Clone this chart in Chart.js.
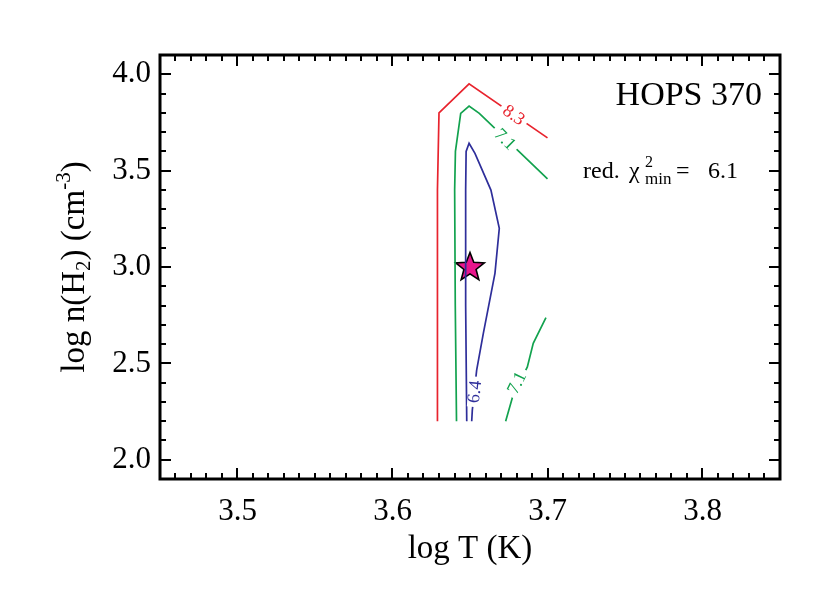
<!DOCTYPE html>
<html>
<head>
<meta charset="utf-8">
<script src="https://cdn.jsdelivr.net/npm/chart.js@4.4.1/dist/chart.umd.min.js"></script>
<style>
  html, body { margin: 0; padding: 0; background: #fff; }
  #c { display: block; }
</style>
</head>
<body>
<canvas id="c" width="830" height="593"></canvas>
<script>
// axis ranges and labelled ticks
const xRange = [3.45, 3.85];
const yRange = [1.9, 4.1];
const xTicks = [3.5, 3.6, 3.7, 3.8];
const yTicks = [2.0, 2.5, 3.0, 3.5, 4.0];

// contour paths: [log T, log n]
const contour83 = [[3.629, 2.2], [3.629, 2.8], [3.629, 3.4], [3.630, 3.8], [3.6494, 3.95], [3.700, 3.67]];
const contour71a = [[3.6413, 2.2], [3.6405, 2.8], [3.6401, 3.4], [3.6406, 3.6], [3.644, 3.797], [3.6494, 3.835], [3.656, 3.797], [3.700, 3.457]];
const contour71b = [[3.673, 2.2], [3.6775, 2.327], [3.687, 2.482], [3.6908, 2.604], [3.699, 2.737]];
const contour64 = [[3.6479, 2.2], [3.6472, 2.8], [3.6472, 3.4], [3.6475, 3.6], [3.6494, 3.642], [3.6532, 3.59],
  [3.6635, 3.399], [3.6689, 3.201], [3.6661, 2.967], [3.6586, 2.656], [3.6543, 2.465], [3.6515, 2.258], [3.6511, 2.2]];
const bestFit = [[3.65, 3.0]];

const RED = '#e8232d', GREEN = '#12a24e', BLUE = '#2e2e9a';
const SERIF = "'Liberation Serif', 'Times New Roman', serif";

// contour level labels: text, position (data), angle in degrees
const contourLabels = [
  { text: '8.3', x: 3.6784, y: 3.79, angle: 35, color: RED },
  { text: '7.1', x: 3.6728, y: 3.664, angle: 45, color: GREEN },
  { text: '7.1', x: 3.680, y: 2.40, angle: -64, color: GREEN },
  { text: '6.4', x: 3.6528, y: 2.353, angle: -84, color: BLUE },
];

function pts(arr) { return arr.map(([x, y]) => ({ x, y })); }

function starImage() {
  const c = document.createElement('canvas');
  c.width = 36; c.height = 36;
  const g = c.getContext('2d');
  const R = 15, r = 6.4, cx = 18, cy = 18.5;
  g.beginPath();
  for (let i = 0; i < 10; i++) {
    const a = -Math.PI / 2 + i * Math.PI / 5;
    const rad = i % 2 === 0 ? R : r;
    g.lineTo(cx + rad * Math.cos(a), cy + rad * Math.sin(a));
  }
  g.closePath();
  g.fillStyle = '#e8168c';
  g.fill();
  g.lineWidth = 1.6;
  g.strokeStyle = '#000';
  g.stroke();
  return c;
}

function lineSet(data, color) {
  return {
    data: pts(data), showLine: true, borderColor: color, borderWidth: 1.7,
    pointRadius: 0, fill: false, tension: 0,
  };
}

// frame, inward ticks, titles and annotations
const framePlugin = {
  id: 'frame',
  afterDatasetsDraw(chart) {
    const { ctx, scales: { x, y } } = chart;
    ctx.save();
    ctx.font = `18px ${SERIF}`;
    ctx.textAlign = 'center';
    ctx.textBaseline = 'middle';
    for (const l of contourLabels) {
      const px = x.getPixelForValue(l.x), py = y.getPixelForValue(l.y);
      const w = ctx.measureText(l.text).width;
      ctx.save();
      ctx.translate(px, py);
      ctx.rotate(l.angle * Math.PI / 180);
      ctx.fillStyle = '#fff';
      ctx.fillRect(-w / 2 - 4, -6, w + 8, 12);
      ctx.fillStyle = l.color;
      ctx.fillText(l.text, 0, 1);
      ctx.restore();
    }
    ctx.restore();
  },
  afterDraw(chart) {
    const { ctx, chartArea: a, scales: { x, y } } = chart;
    ctx.save();
    ctx.strokeStyle = '#000';
    ctx.lineWidth = 2;
    ctx.beginPath();
    for (let i = Math.round(xRange[0] * 100); i <= Math.round(xRange[1] * 100); i++) {
      const px = Math.round(x.getPixelForValue(i / 100));
      const len = i % 10 === 0 ? 11 : 6;
      ctx.moveTo(px, a.bottom); ctx.lineTo(px, a.bottom - len);
      ctx.moveTo(px, a.top); ctx.lineTo(px, a.top + len);
    }
    for (let i = Math.round(yRange[0] * 10); i <= Math.round(yRange[1] * 10); i++) {
      const py = Math.round(y.getPixelForValue(i / 10));
      const len = i % 5 === 0 ? 11 : 6;
      ctx.moveTo(a.left, py); ctx.lineTo(a.left + len, py);
      ctx.moveTo(a.right, py); ctx.lineTo(a.right - len, py);
    }
    ctx.stroke();
    ctx.lineWidth = 3;
    ctx.strokeRect(a.left, a.top, a.right - a.left, a.bottom - a.top);

    ctx.fillStyle = '#000';
    ctx.textBaseline = 'alphabetic';

    // x title
    ctx.font = `33px ${SERIF}`;
    ctx.textAlign = 'center';
    ctx.fillText('log T (K)', (a.left + a.right) / 2, 558);

    // y title with sub/superscripts, rotated
    ctx.save();
    ctx.translate(84, (a.top + a.bottom) / 2);
    ctx.rotate(-Math.PI / 2);
    const parts = [
      ['log n(H', 33, 0], ['2', 21, 6], [') (cm', 33, 0], ['-3', 21, -14], [')', 33, 0],
    ];
    let total = 0;
    for (const [t, s] of parts) { ctx.font = `${s}px ${SERIF}`; total += ctx.measureText(t).width; }
    let cx = -total / 2;
    ctx.textAlign = 'left';
    for (const [t, s, dy] of parts) {
      ctx.font = `${s}px ${SERIF}`;
      ctx.fillText(t, cx, dy);
      cx += ctx.measureText(t).width;
    }
    ctx.restore();

    // annotations
    ctx.font = `34px ${SERIF}`;
    ctx.textAlign = 'right';
    ctx.fillText('HOPS 370', 762, 105);

    ctx.textAlign = 'left';
    ctx.font = `24px ${SERIF}`;
    ctx.fillText('red.', 583, 178);
    ctx.fillText('\u03c7', 629, 178);
    ctx.font = `16px ${SERIF}`;
    ctx.fillText('2', 645, 167);
    ctx.font = `17px ${SERIF}`;
    ctx.fillText('min', 645, 184);
    ctx.font = `24px ${SERIF}`;
    ctx.fillText('=', 676, 178);
    ctx.fillText('6.1', 708, 178);
    ctx.restore();
  },
};

const tickFont = { family: SERIF, size: 31 };

new Chart(document.getElementById('c'), {
  type: 'scatter',
  data: {
    datasets: [
      lineSet(contour83, RED),
      lineSet(contour71a, GREEN),
      lineSet(contour71b, GREEN),
      lineSet(contour64, BLUE),
      { data: pts(bestFit), pointStyle: starImage(), pointRadius: 15, showLine: false },
    ],
  },
  options: {
    responsive: false,
    animation: false,
    layout: { padding: { top: 55, right: 50, left: 0, bottom: 0 } },
    plugins: { legend: { display: false }, tooltip: { enabled: false } },
    scales: {
      x: {
        type: 'linear', min: xRange[0], max: xRange[1],
        afterBuildTicks(s) { s.ticks = xTicks.map(v => ({ value: v })); },
        afterFit(s) { s.height = 593 - 55 - 424; },
        ticks: { font: tickFont, color: '#000', padding: 14, maxRotation: 0, autoSkip: false,
          callback: v => v.toFixed(1) },
        grid: { display: false, drawTicks: false },
        border: { display: false },
      },
      y: {
        type: 'linear', min: yRange[0], max: yRange[1],
        afterBuildTicks(s) { s.ticks = yTicks.map(v => ({ value: v })); },
        afterFit(s) { s.width = 160; },
        ticks: { font: tickFont, color: '#000', padding: 9, autoSkip: false,
          callback: v => v.toFixed(1) },
        grid: { display: false, drawTicks: false },
        border: { display: false },
      },
    },
  },
  plugins: [framePlugin],
});
</script>
</body>
</html>
